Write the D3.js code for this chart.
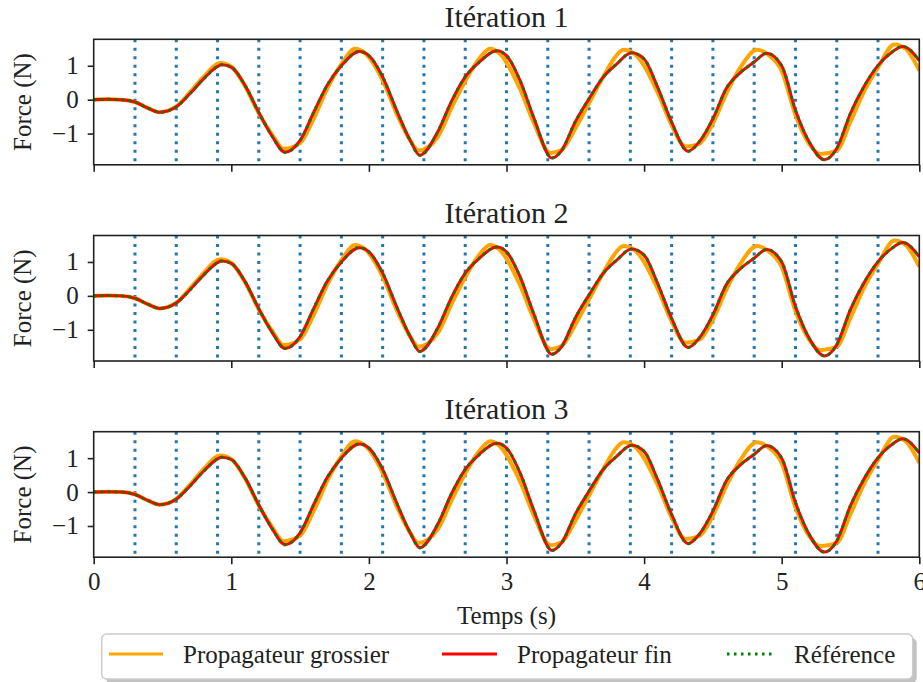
<!DOCTYPE html>
<html>
<head>
<meta charset="utf-8">
<script src="https://cdn.jsdelivr.net/npm/d3@7"></script>
<style>
  body { margin: 0; background: #fff; }
  text { font-family: "Liberation Serif", "DejaVu Serif", serif; fill: #222; }
</style>
</head>
<body>
<div id="vis"></div>
<script>
// == DATA ==
const iterations = ["Itération 1", "Itération 2", "Itération 3"];
const xTicks = [0, 1, 2, 3, 4, 5, 6];
const yTicks = [-1, 0, 1];
// coarse/fine boundaries (parareal time slices)
const sliceTimes = [0.3, 0.6, 0.9, 1.2, 1.5, 1.8, 2.1, 2.4, 2.7, 3.0, 3.3, 3.6, 3.9, 4.2, 4.5, 4.8, 5.1, 5.4, 5.7];

// [temps, force]
const coarse = [
  [0, 0], [0.1, 0.01], [0.2, 0], [0.3, -0.07], [0.4, -0.26], [0.48, -0.37], [0.6, -0.2],
  [0.7, 0.22], [0.8, 0.68], [0.92, 1.08], [1.0, 0.97], [1.1, 0.4], [1.2, -0.4], [1.3, -1.05],
  [1.38, -1.45], [1.5, -1.28], [1.6, -0.55], [1.7, 0.35], [1.8, 1.05], [1.9, 1.5], [1.97, 1.38],
  [2.1, 0.57], [2.2, -0.4], [2.3, -1.2], [2.36, -1.5], [2.5, -1.1], [2.6, -0.25], [2.7, 0.55],
  [2.8, 1.2], [2.88, 1.5], [2.95, 1.36], [3.1, 0.3], [3.2, -0.7], [3.32, -1.57], [3.4, -1.48],
  [3.5, -0.85], [3.6, -0.1], [3.7, 0.65], [3.78, 1.2], [3.85, 1.47], [3.93, 1.35], [4.1, 0.2],
  [4.2, -0.75], [4.3, -1.38], [4.4, -1.3], [4.5, -0.7], [4.6, 0.2], [4.7, 0.95], [4.82, 1.47],
  [4.9, 1.33], [5.0, 0.85], [5.1, -0.45], [5.2, -1.3], [5.28, -1.6], [5.4, -1.5], [5.5, -0.65],
  [5.6, 0.25], [5.7, 0.95], [5.82, 1.63], [5.9, 1.5], [6.0, 0.86]
];
const fine = [
  [0, 0], [0.1, 0.01], [0.2, 0], [0.3, -0.07], [0.4, -0.26], [0.48, -0.37], [0.6, -0.21],
  [0.7, 0.18], [0.8, 0.62], [0.9, 0.98], [0.93, 1.03], [1.0, 0.96], [1.1, 0.42], [1.2, -0.38],
  [1.3, -1.1], [1.39, -1.55], [1.5, -1.2], [1.6, -0.36], [1.7, 0.45], [1.8, 1.0], [1.93, 1.42],
  [2.0, 1.3], [2.1, 0.67], [2.2, -0.3], [2.3, -1.2], [2.37, -1.64], [2.5, -0.95], [2.6, -0.05],
  [2.7, 0.67], [2.8, 1.1], [2.93, 1.44], [3.0, 1.3], [3.1, 0.55], [3.2, -0.55], [3.33, -1.72],
  [3.4, -1.5], [3.5, -0.65], [3.6, 0.03], [3.7, 0.65], [3.8, 1.05], [3.91, 1.38], [4.0, 1.2],
  [4.1, 0.35], [4.2, -0.66], [4.32, -1.52], [4.4, -1.25], [4.5, -0.56], [4.6, 0.35], [4.7, 0.8],
  [4.8, 1.11], [4.89, 1.37], [5.0, 1.0], [5.1, -0.31], [5.2, -1.25], [5.31, -1.77], [5.4, -1.44],
  [5.5, -0.4], [5.6, 0.4], [5.7, 1.01], [5.8, 1.4], [5.88, 1.57], [6.0, 1.15]
];
const reference = fine.map(d => d.slice());

const legendItems = [
  { label: "Propagateur grossier", color: "#ffa500", dash: null, width: 3 },
  { label: "Propagateur fin", color: "#ff0000", dash: null, width: 3 },
  { label: "Référence", color: "#008000", dash: "2.5,4.5", width: 3 }
];

// == BOILERPLATE ==
const W = 923, H = 682;
const left = 93.7, right = 919.3, panelH = 125.5, panelTops = [39.3, 235.5, 431.7];

const svg = d3.select("#vis").append("svg")
  .attr("width", W).attr("height", H);

const x = d3.scaleLinear().domain([0, 6]).range([left, right]);
const yRange = [-1.92, 1.78];

const fontSize = 25;

iterations.forEach((title, i) => {
  const top = panelTops[i];
  const y = d3.scaleLinear().domain(yRange).range([top + panelH, top]);
  const g = svg.append("g");

  const clipId = "clip" + i;
  g.append("clipPath").attr("id", clipId)
    .append("rect").attr("x", left).attr("y", top).attr("width", right - left).attr("height", panelH);

  // vertical slice lines
  g.append("g").selectAll("line")
    .data(sliceTimes)
    .enter().append("line")
    .attr("x1", d => x(d)).attr("x2", d => x(d))
    .attr("y1", top).attr("y2", top + panelH)
    .attr("stroke", "#1f77b4")
    .attr("stroke-width", 3)
    .attr("stroke-dasharray", "3,5.5");

  const line = d3.line()
    .x(d => x(d[0])).y(d => y(d[1]))
    .curve(d3.curveMonotoneX);

  const curves = g.append("g").attr("clip-path", `url(#${clipId})`);
  curves.append("path").datum(coarse)
    .attr("d", line).attr("fill", "none")
    .attr("stroke", "#ffa500").attr("stroke-width", 4);
  curves.append("path").datum(fine)
    .attr("d", line).attr("fill", "none")
    .attr("stroke", "#ff0000").attr("stroke-width", 3);
  curves.append("path").datum(reference)
    .attr("d", line).attr("fill", "none")
    .attr("stroke", "#008000").attr("stroke-width", 3)
    .attr("stroke-dasharray", "2.5,4.5");

  // axes
  const yAxis = d3.axisLeft(y).tickValues(yTicks)
    .tickSize(6).tickPadding(9)
    .tickFormat(d => d < 0 ? "\u2212" + Math.abs(d) : d);
  const ya = g.append("g").attr("transform", `translate(${left},0)`).call(yAxis);
  ya.select(".domain").remove();
  ya.selectAll("text").style("font-size", fontSize + "px").attr("fill", "#222");
  ya.selectAll("line").attr("stroke", "#222").attr("stroke-width", 1.6);

  const xAxis = d3.axisBottom(x).tickValues(xTicks)
    .tickSize(7).tickPadding(8)
    .tickFormat(i === iterations.length - 1 ? d3.format("d") : () => "");
  const xa = g.append("g").attr("transform", `translate(0,${top + panelH})`).call(xAxis);
  xa.select(".domain").remove();
  xa.selectAll("text").style("font-size", fontSize + "px").attr("fill", "#222");
  xa.selectAll("line").attr("stroke", "#222").attr("stroke-width", 1.6);

  // frame
  g.append("rect")
    .attr("x", left).attr("y", top)
    .attr("width", right - left).attr("height", panelH)
    .attr("fill", "none").attr("stroke", "#222").attr("stroke-width", 1.6);

  g.append("text")
    .attr("x", (left + right) / 2).attr("y", top - 12.5)
    .attr("text-anchor", "middle")
    .style("font-size", "30px")
    .text(title);

  g.append("text")
    .attr("transform", `translate(31,${top + panelH / 2}) rotate(-90)`)
    .attr("text-anchor", "middle")
    .style("font-size", fontSize + "px")
    .text("Force (N)");
});

svg.append("text")
  .attr("x", (left + right) / 2).attr("y", 624)
  .attr("text-anchor", "middle")
  .style("font-size", fontSize + "px")
  .text("Temps (s)");

// legend
const lg = svg.append("g");
const lx = 101.7, ly = 634, lw = 811, lh = 45;
lg.append("rect")
  .attr("x", lx + 4).attr("y", ly + 4).attr("width", lw).attr("height", lh)
  .attr("rx", 5).attr("fill", "#999").attr("opacity", 0.6);
lg.append("rect")
  .attr("x", lx).attr("y", ly).attr("width", lw).attr("height", lh)
  .attr("rx", 5).attr("fill", "#fff").attr("stroke", "#ccc").attr("stroke-width", 1.5);

const handleX = [109, 442, 727];
const handleLen = [54, 55, 47];
legendItems.forEach((d, k) => {
  lg.append("line")
    .attr("x1", handleX[k]).attr("x2", handleX[k] + handleLen[k])
    .attr("y1", 654).attr("y2", 654)
    .attr("stroke", d.color).attr("stroke-width", d.width)
    .attr("stroke-dasharray", d.dash);
  lg.append("text")
    .attr("x", handleX[k] + handleLen[k] + 20).attr("y", 663)
    .style("font-size", fontSize + "px")
    .text(d.label);
});
</script>
</body>
</html>
